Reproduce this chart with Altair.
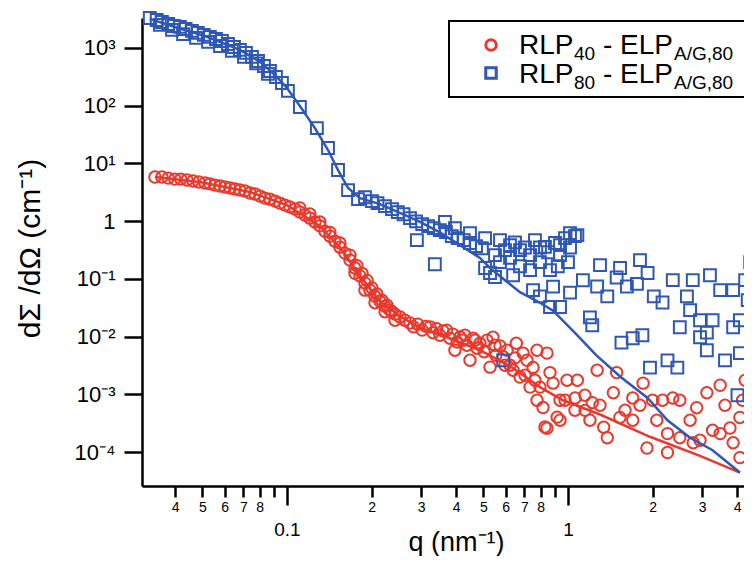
import altair as alt
import pandas as pd

RED = "#E8392D"
BLUE = "#2E58B3"
FONT = "Liberation Sans"

# ---------------- data ----------------
red_q = [0.0339, 0.0359, 0.0378, 0.0399, 0.0419, 0.0441, 0.0463, 0.0486, 0.0511, 0.0532,
         0.0554, 0.0578, 0.0602, 0.0627, 0.0653, 0.068, 0.0709, 0.0739, 0.077, 0.0802,
         0.0835, 0.087, 0.0907, 0.0944, 0.0984, 0.1025, 0.1068, 0.1112, 0.1159, 0.1207,
         0.1258, 0.131, 0.1365, 0.1422, 0.1482, 0.1544, 0.1608, 0.1676, 0.1746, 0.1819,
         0.1895, 0.1974, 0.2057, 0.2143, 0.2233, 0.2326, 0.2424, 0.2525,
         0.1112, 0.1207, 0.131, 0.1422, 0.1544, 0.1676, 0.1775, 0.185, 0.193, 0.2007,
         0.209, 0.2178, 0.227, 0.2365, 0.1746, 0.1895, 0.2057, 0.2233, 0.2424,
         0.263, 0.2741, 0.282, 0.292, 0.303, 0.312, 0.323, 0.331, 0.341, 0.350,
         0.359, 0.370, 0.380, 0.389, 0.403, 0.413, 0.423, 0.437, 0.448, 0.460,
         0.475, 0.486, 0.503, 0.515, 0.528, 0.541, 0.554, 0.573, 0.588, 0.607,
         0.622, 0.638, 0.655, 0.675, 0.692, 0.715, 0.733, 0.751, 0.776, 0.776,
         0.795, 0.815, 0.842, 0.842, 0.863, 0.885, 0.915, 0.937, 0.828, 0.992,
         1.08, 1.06, 1.15,
         1.27, 1.49, 1.22, 1.34, 1.38, 1.45, 1.53, 1.70, 1.70, 1.85,
         2.0, 2.17, 2.36, 2.50, 1.91, 2.26, 2.26, 2.50, 2.79, 2.87,
         3.12, 3.27, 3.48, 3.77, 3.87, 4.09, 4.18, 4.09, 4.27,
         0.396, 0.43, 0.467, 0.55, 0.597, 0.648, 0.703, 0.763,
         0.976, 1.149, 1.197, 1.30, 1.596, 1.804, 2.07, 2.72, 2.95, 3.62,
         3.48, 0.937, 1.059]
red_i = [5.81, 5.81, 5.58, 5.36, 5.36, 5.16, 4.96, 4.78, 4.6, 4.43,
         4.22, 4.06, 3.91, 3.76, 3.6, 3.46, 3.33, 3.07, 2.95, 2.72,
         2.51, 2.41, 2.23, 2.06, 1.9, 1.76, 1.62, 1.44, 1.28, 1.13,
         0.97, 0.83, 0.67, 0.55, 0.45, 0.355, 0.28, 0.212, 0.155, 0.113,
         0.0853, 0.064, 0.0502, 0.0411, 0.0337, 0.0288, 0.0246, 0.0219,
         1.7, 1.33, 0.97, 0.64, 0.42, 0.258, 0.17, 0.125, 0.094, 0.070,
         0.055, 0.0429, 0.0352, 0.027, 0.125, 0.064, 0.0387, 0.027, 0.0193,
         0.0193, 0.0173, 0.0148, 0.0165, 0.013, 0.0151, 0.0148, 0.0117, 0.0137, 0.0106,
         0.0126, 0.013, 0.0094, 0.0111, 0.0081, 0.0099, 0.00869, 0.00712, 0.00391, 0.0094,
         0.0063, 0.0077, 0.0055, 0.00869, 0.00297, 0.0098, 0.00478, 0.0069, 0.0045, 0.00583,
         0.00321, 0.00263, 0.0077, 0.0020, 0.0052, 0.0039, 0.00134, 0.00294, 0.00583, 0.000793,
         0.00134, 0.000593, 0.0052, 0.00026, 0.00239, 0.00157, 0.000405, 0.000357, 0.000273, 0.00176,
         0.00176, 0.00087, 0.00053,
         0.00263, 0.00239, 0.000722, 0.00027, 0.000178, 0.00107, 0.0004, 0.000357, 0.00087, 0.00157,
         0.000793, 0.000793, 0.00087, 0.000793, 0.000118, 0.0000986, 0.00021, 0.000178, 0.000146, 0.00059,
         0.00107, 0.00024, 0.00021, 0.000262, 0.000146, 0.0000806, 0.000793, 0.0004, 0.00176,
         0.00583, 0.0106, 0.00869, 0.00712, 0.00321, 0.0043, 0.00215, 0.00176,
         0.000793, 0.000968, 0.000357, 0.00065, 0.000532, 0.00065, 0.000357, 0.000357, 0.000161, 0.00065,
         0.00144, 0.000793, 0.000532]

blue_q = [0.0325, 0.0344, 0.0359, 0.0378, 0.0396, 0.0416, 0.0436, 0.0459, 0.0482, 0.0506,
          0.0532, 0.0559, 0.0587, 0.0617, 0.0648, 0.068, 0.0715, 0.0751, 0.0789, 0.0828,
          0.087, 0.0914, 0.096, 0.1008,
          0.0353, 0.039, 0.0427, 0.0475, 0.0524, 0.0578, 0.0637, 0.0703, 0.0777, 0.0856,
          0.1112, 0.1278, 0.140, 0.152, 0.165, 0.179, 0.1895, 0.2007, 0.21, 0.2233,
          0.2365, 0.248, 0.26, 0.2741, 0.288, 0.303, 0.318, 0.333, 0.35, 0.368,
          0.386, 0.405, 0.426, 0.448, 0.471, 0.494,
          0.336, 0.290, 0.365, 0.396, 0.448, 0.507, 0.528, 0.55, 0.573, 0.597,
          0.622, 0.648, 0.675, 0.703, 0.733, 0.763, 0.795, 0.828, 0.863, 0.899,
          0.937, 0.976, 1.017, 1.059, 1.0, 0.92, 0.85, 0.733, 0.638, 0.55,
          0.507, 1.017, 1.08, 0.573, 0.622, 0.675, 0.795, 0.937,
          1.13, 1.27, 1.38, 1.49, 1.62, 1.76, 1.92, 2.02, 2.17, 2.36,
          2.65, 2.78, 2.72, 2.95, 3.27, 3.48, 3.87, 4.09, 4.36, 4.45,
          1.197, 1.22, 1.55, 1.70, 1.84, 2.5, 3.12, 3.87, 0.885, 0.937,
          0.795, 1.017, 0.751, 0.863, 1.958, 2.26, 2.45, 2.95, 3.12, 3.62,
          4.09, 4.01, 0.588,
          1.30, 1.804, 1.532, 3.2, 4.27]
blue_i = [3300, 3050, 2810, 2600, 2400, 2310, 2130, 1970, 1820, 1680,
          1550, 1430, 1320, 1170, 1040, 923, 820, 700, 595, 487,
          399, 314, 247, 180,
          2506, 2052, 1740, 1490, 1270, 1080, 887, 700, 540, 355,
          95, 41, 18.5, 7.7, 3.46, 2.41, 2.6, 2.23, 2.06, 1.83,
          1.62, 1.44, 1.32, 1.13, 0.995, 0.89, 0.82, 0.76, 0.70, 0.65,
          0.55, 0.51, 0.47, 0.42, 0.37, 0.34,
          0.18, 0.47, 0.97, 0.76, 0.62, 0.51, 0.127, 0.258, 0.195, 0.316,
          0.231, 0.43, 0.166, 0.35, 0.258, 0.47, 0.195, 0.36, 0.142, 0.42,
          0.258, 0.51, 0.35, 0.55, 0.195, 0.166, 0.29, 0.142, 0.116, 0.108,
          0.155, 0.62, 0.574, 0.47, 0.385, 0.316, 0.35, 0.385,
          0.095, 0.074, 0.050, 0.106, 0.074, 0.082, 0.127, 0.050, 0.0391, 0.0953,
          0.050, 0.0953, 0.0288, 0.0193, 0.0193, 0.064, 0.064, 0.0193, 0.0429, 0.195,
          0.0216, 0.0158, 0.0079, 0.0094, 0.0106, 0.0146, 0.0118, 0.0146, 0.0735, 0.0327,
          0.050, 0.0578, 0.064, 0.0327, 0.00292, 0.0039, 0.00292, 0.0098, 0.00583, 0.0039,
          0.0052, 0.000968, 0.0039,
          0.173, 0.212, 0.155, 0.116, 0.0953]

redfit_q = [0.0339, 0.049, 0.0739, 0.1, 0.131, 0.1544, 0.1819, 0.2143, 0.2525, 0.2975,
            0.38, 0.486, 0.622, 0.795, 0.96, 1.30, 1.958, 2.95, 4.09]
redfit_i = [5.81, 4.78, 3.2, 1.90, 0.83, 0.355, 0.113, 0.0411, 0.0227, 0.0142,
            0.0094, 0.00583, 0.0031, 0.00134, 0.000793, 0.00045, 0.000185, 0.0000863, 0.0000442]

bluefit_q = [0.0325, 0.0399, 0.0511, 0.068, 0.0802, 0.0907, 0.1, 0.1112, 0.1258, 0.140,
             0.152, 0.165, 0.1819, 0.2143, 0.2525, 0.2975, 0.35, 0.413, 0.486, 0.528,
             0.597, 0.675, 0.795, 0.885, 1.059, 1.26, 1.532, 1.92, 2.26, 2.72, 3.27, 4.09]
bluefit_i = [3180, 2310, 1610, 923, 573, 340, 203, 99, 41, 17.1,
             7.68, 3.75, 2.5, 1.98, 1.39, 0.97, 0.64, 0.385, 0.231, 0.155,
             0.0953, 0.059, 0.0387, 0.0282, 0.0117, 0.0048, 0.00205, 0.00087, 0.000357, 0.000178, 0.000108, 0.0000444]

x_ticks = [0.04, 0.05, 0.06, 0.07, 0.08, 0.09, 0.1, 0.2, 0.3, 0.4, 0.5, 0.6, 0.7, 0.8, 0.9, 1, 2, 3, 4]
y_ticks = [1e-4, 1e-3, 1e-2, 1e-1, 1, 10, 100, 1000]
y_labels = ["10⁻⁴", "10⁻³", "10⁻²", "10⁻¹", "1", "10¹", "10²", "10³"]

legend_main = ["RLP", "RLP"]
legend_sub1 = ["40", "80"]
legend_sub2 = ["A/G,80", "A/G,80"]

# ---------------- chart ----------------
red = pd.DataFrame({"q": red_q, "I": red_i})
blue = pd.DataFrame({"q": blue_q, "I": blue_i})
redfit = pd.DataFrame({"q": redfit_q, "I": redfit_i})
bluefit = pd.DataFrame({"q": bluefit_q, "I": bluefit_i})

xscale = alt.Scale(type="log", domain=[0.0305, 4.23], nice=False)
yscale = alt.Scale(type="log", domain=[2.6e-5, 3300], nice=False)

major = "datum.value == 0.1 || datum.value == 1"
x_label_expr = (
    "datum.value == 0.1 ? '0.1' : datum.value == 1 ? '1' : "
    "(datum.value == 0.09 || datum.value == 0.9) ? '' : "
    "format(round(datum.value < 0.1 ? datum.value * 100 : (datum.value < 1 ? datum.value * 10 : datum.value)), 'd')"
)
y_label_expr = "[" + ",".join("'%s'" % s for s in y_labels) + "][round(log(datum.value) / LN10) + 4]"

x_axis = alt.Axis(
    values=x_ticks, labelExpr=x_label_expr, grid=False,
    tickSize={"condition": {"test": major, "value": 19}, "value": 11},
    labelFontSize={"condition": {"test": major, "value": 19}, "value": 14},
    labelPadding={"condition": {"test": major, "value": 15}, "value": 3},
    tickWidth=2.5, tickColor="black", domainColor="black", domainWidth=2.5,
    labelColor="black", labelFont=FONT, labelFlush=False, labelOverlap=False, labelBound=False,
    title="q (nm⁻¹)", titleFont=FONT, titleFontSize=27, titleFontWeight="normal", titleColor="black",
    titleX=314, titleY=64, titleBaseline="alphabetic", titleAnchor="middle",
)
y_axis = alt.Axis(
    values=y_ticks, labelExpr=y_label_expr, grid=False,
    tickSize=18, tickWidth=2.5, tickColor="black", domainColor="black", domainWidth=2.5,
    labelColor="black", labelFont=FONT, labelFontSize=22, labelPadding=9,
    labelFlush=False, labelOverlap=False, labelBound=False,
    title="dΣ /dΩ (cm⁻¹)", titleFont=FONT, titleFontSize=30, titleFontWeight="normal", titleColor="black",
    titleX=-97, titleY=230, titleAngle=-90, titleBaseline="bottom", titleAnchor="middle",
)

base_x = alt.X("q:Q", scale=xscale, axis=x_axis)
base_y = alt.Y("I:Q", scale=yscale, axis=y_axis)

red_pts = alt.Chart(red).mark_point(shape="circle", filled=False, size=130, strokeWidth=2,
                                    color=RED, opacity=1).encode(x=base_x, y=base_y)
blue_pts = alt.Chart(blue).mark_point(shape="square", filled=False, size=140, strokeWidth=2,
                                      color=BLUE, opacity=1).encode(x="q:Q", y="I:Q")
red_line = alt.Chart(redfit).mark_line(color=RED, strokeWidth=2.5).encode(x="q:Q", y="I:Q")
blue_line = alt.Chart(bluefit).mark_line(color=BLUE, strokeWidth=2.5).encode(x="q:Q", y="I:Q")

one = pd.DataFrame({"k": [0]})
leg_box = alt.Chart(one).mark_rect(fill="white", stroke="black", strokeWidth=2).encode(
    x=alt.value(307), x2=alt.value(640), y=alt.value(3), y2=alt.value(79))
leg_c = alt.Chart(one).mark_point(shape="circle", filled=False, size=110, strokeWidth=3,
                                  color=RED, opacity=1).encode(x=alt.value(349), y=alt.value(27))
leg_s = alt.Chart(one).mark_point(shape="square", filled=False, size=110, strokeWidth=3,
                                  color=BLUE, opacity=1).encode(x=alt.value(349), y=alt.value(55))


def txt(s, x, y, size):
    return alt.Chart(one).mark_text(text=s, align="left", baseline="alphabetic", font=FONT,
                                    fontSize=size, color="black").encode(x=alt.value(x), y=alt.value(y))


legend_layers = []
for row, yy in enumerate([36, 65]):
    legend_layers += [
        txt(legend_main[row], 377, yy, 28),
        txt(legend_sub1[row], 432, yy + 6, 19),
        txt("-", 461, yy, 28),
        txt("ELP", 478, yy, 28),
        txt(legend_sub2[row], 532, yy + 6, 19),
    ]

chart = alt.layer(red_pts, blue_pts, red_line, blue_line, leg_box, leg_c, leg_s, *legend_layers).properties(
    width=602, height=468,
    padding={"left": 134, "top": 10, "right": 0, "bottom": 70},
    autosize=alt.AutoSizeParams(type="none"),
    background="white",
).configure_view(stroke=None)

chart.save("out.html", embed_options={"renderer": "svg", "actions": False})
